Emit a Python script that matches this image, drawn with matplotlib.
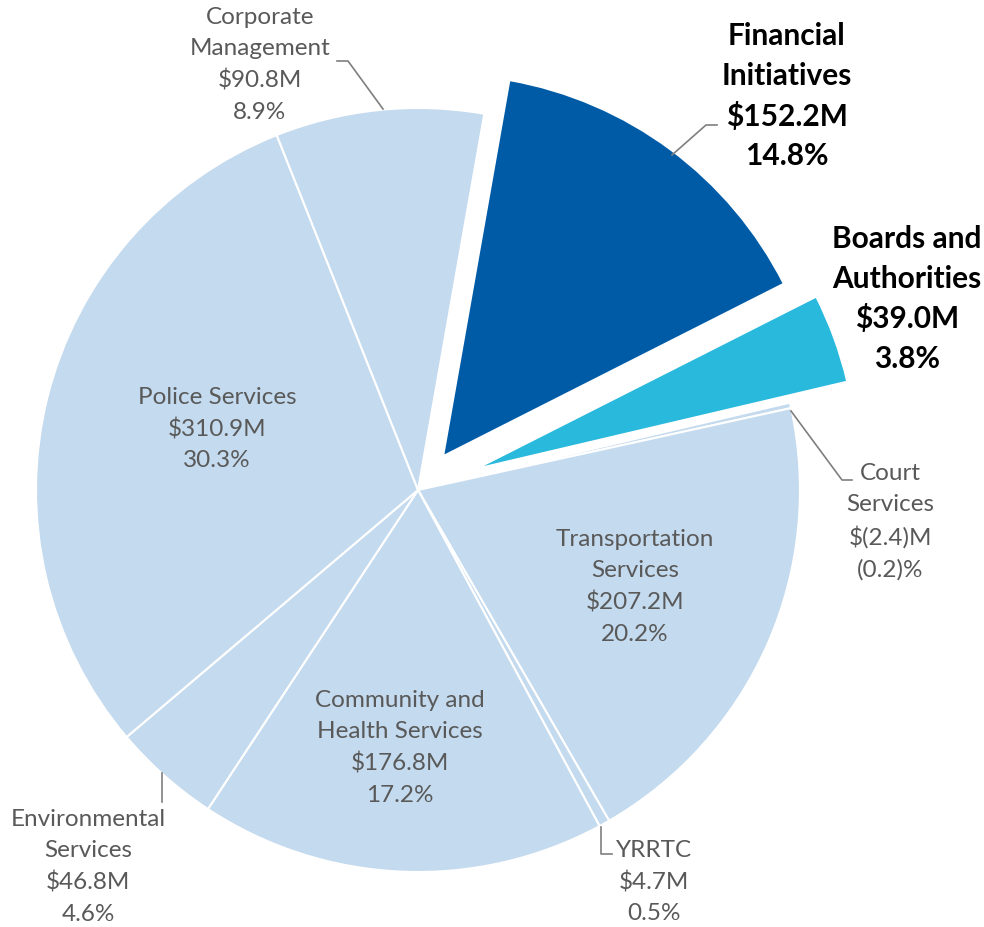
import matplotlib
matplotlib.use('Agg')
import matplotlib.pyplot as plt

names = ['Financial\nInitiatives', 'Boards and\nAuthorities', 'Court\nServices',
         'Transportation\nServices', 'YRRTC', 'Community and\nHealth Services',
         'Environmental\nServices', 'Police Services', 'Corporate\nManagement']
amounts = [152.2, 39.0, -2.4, 207.2, 4.7, 176.8, 46.8, 310.9, 90.8]
percents = [14.8, 3.8, -0.2, 20.2, 0.5, 17.2, 4.6, 30.3, 8.9]
highlight = [True, True, False, False, False, False, False, False, False]

light = '#C4DAEE'
colors = ['#005BA7', '#29B9DC'] + [light] * 7
explode_frac = [0.11, 0.16, 0, 0, 0, 0, 0, 0, 0]

def money(v):
    return '$(%.1f)M' % -v if v < 0 else '$%.1fM' % v

def pct(v):
    return '(%.1f)%%' % -v if v < 0 else '%.1f%%' % v

plt.rcParams['font.family'] = ['Lato', 'DejaVu Sans']

W, H = 984, 927
fig = plt.figure(figsize=(W / 100, H / 100), dpi=100)
ax = fig.add_axes([0, 0, 1, 1])

cx, cy, R = 418, 490, 382
# y axis is inverted, so draw clockwise as counterclock=True with mirrored angle
ax.pie([abs(a) for a in amounts], colors=colors, explode=[e * R for e in explode_frac],
       startangle=-80, counterclock=True, radius=R, center=(cx, cy),
       wedgeprops=dict(edgecolor='white', linewidth=1.5), frame=True)
ax.set_xlim(0, W)
ax.set_ylim(H, 0)
ax.set_aspect('equal')
ax.axis('off')

# label block centres (pixels)
label_pos = [(787, 96), (907, 299), (890, 522), (635, 587), (654, 882),
             (400, 748), (88, 867), (217, 429), (260, 65)]

for i in range(len(names)):
    txt = names[i] + '\n' + money(amounts[i]) + '\n' + pct(percents[i])
    x, y = label_pos[i]
    if highlight[i]:
        ax.text(x, y, txt, ha='center', va='center', fontsize=21.5, fontweight='bold',
                color='black', linespacing=1.5)
    else:
        ax.text(x, y, txt, ha='center', va='center', fontsize=17.5,
                color='#595959', linespacing=1.58)

# leader lines
leaders = [
    [(337, 61), (348, 61), (383, 109)],
    [(717, 125), (706, 125), (672, 155)],
    [(791, 411), (842, 480), (852, 480)],
    [(162, 773), (162, 802)],
    [(601, 827), (601, 854), (612, 854)],
]
for pts in leaders:
    xs = [p[0] for p in pts]
    ys = [p[1] for p in pts]
    ax.plot(xs, ys, color='#7F7F7F', linewidth=1.2)

plt.savefig('out.png', dpi=100)
